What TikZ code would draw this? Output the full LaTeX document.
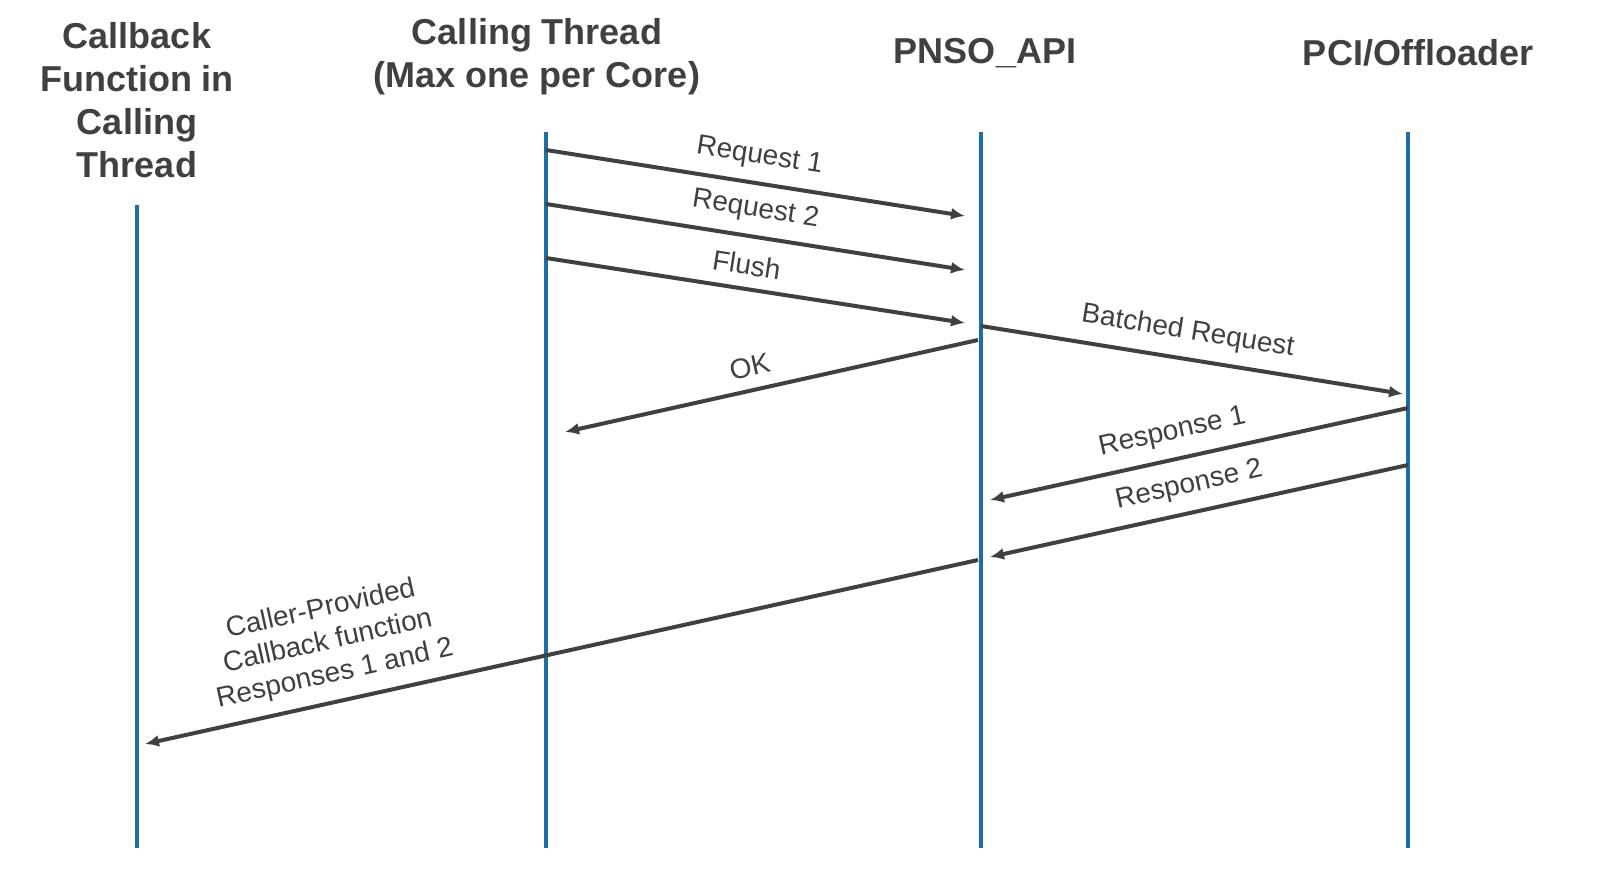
\documentclass[tikz,border=0pt]{standalone}
\usepackage{fontspec}
\setmainfont{Liberation Sans}
\usetikzlibrary{arrows.meta}
\definecolor{lifeblue}{RGB}{27,111,163}
\definecolor{msggray}{RGB}{64,64,64}

\begin{document}
\begin{tikzpicture}[x=0.5pt,y=-0.5pt]
		\tikzset{> = {Latex[length=7pt,width=6pt]}}
		\tikzset{lifeline/.style = {line width = 2pt,lifeblue},
			msg/.style = {->,line width = 2pt,msggray},
			lbl/.style = {sloped,above = 6pt,inner sep = 0pt,text = msggray,align = center,font = \fontsize{14}{16.5}\selectfont},
			head/.style = {align = center,text = msggray,font = \bfseries\fontsize{18}{21.5}\selectfont}}
		\useasboundingbox (0,0) rectangle (1624,881);
		% headers
		\node[head] (cbhead) at (137,100) {Callback\\Function in\\Calling\\Thread};
		\node[head] (cthead) at (537,57) {Calling Thread\\(Max one per Core)};
		\node[head] (apihead) at (985,53) {PNSO\_API};
		\node[head] (pcihead) at (1418,53) {PCI/Offloader};
		% lifelines
		\draw[lifeline] (137,205) -- (137,848);
		\draw[lifeline] (546,132) -- (546,848);
		\draw[lifeline] (981,132) -- (981,848);
		\draw[lifeline] (1408,132) -- (1408,848);
		% message end points
		\coordinate (req1s) at (546,150);
		\coordinate (req1e) at (965,216);
		\coordinate (req2s) at (546,204);
		\coordinate (req2e) at (965,270);
		\coordinate (flushs) at (546,258);
		\coordinate (flushe) at (965,323);
		\coordinate (batchs) at (981,326);
		\coordinate (batche) at (1403,394);
		\coordinate (oks) at (978,340);
		\coordinate (oke) at (565,432);
		\coordinate (resp1s) at (1408,408);
		\coordinate (resp1e) at (990,500);
		\coordinate (resp2s) at (1408,465);
		\coordinate (resp2e) at (990,557);
		\coordinate (cbs) at (978,560);
		\coordinate (cbe) at (145,744);
		% messages
		\draw[msg] (req1s) -- node[lbl,pos = 0.5] (req1lbl) {Request 1} (req1e);
		\draw[msg] (req2s) -- node[lbl,pos = 0.49] (req2lbl) {Request 2} (req2e);
		\draw[msg] (flushs) -- node[lbl,pos = 0.47] (flushlbl) {Flush} (flushe);
		\draw[msg] (batchs) -- node[lbl,pos = 0.48] (batchlbl) {Batched Request} (batche);
		\draw[msg] (oks) -- node[lbl,pos = 0.54] (oklbl) {OK} (oke);
		\draw[msg] (resp1s) -- node[lbl,pos = 0.55] (resp1lbl) {Response 1} (resp1e);
		\draw[msg] (resp2s) -- node[lbl,pos = 0.51] (resp2lbl) {Response 2} (resp2e);
		\draw[msg] (cbs) -- node[lbl,pos = 0.765] (cblbl) {Caller-Provided\\Callback function\\Responses 1 and 2} (cbe);
	\end{tikzpicture}
\end{document}
